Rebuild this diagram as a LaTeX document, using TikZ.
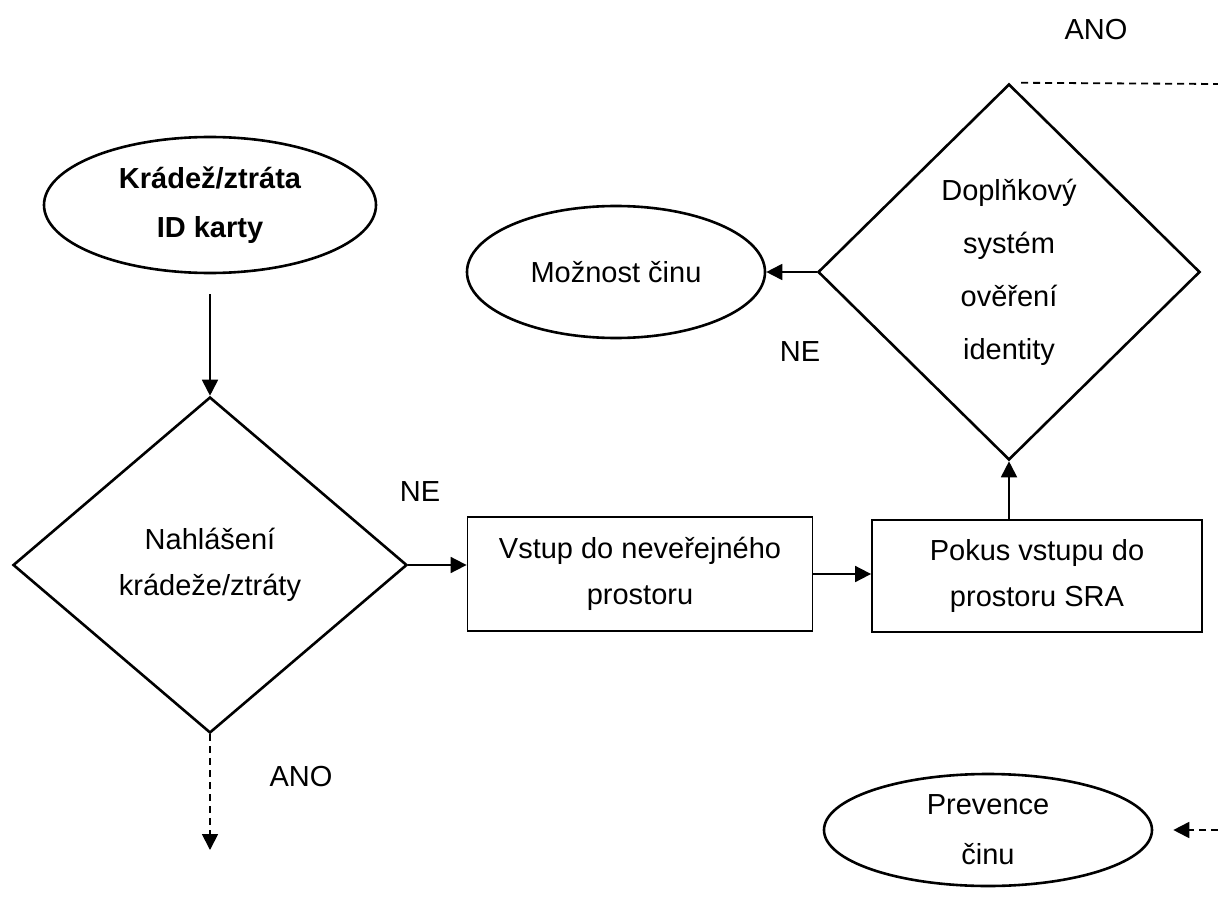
\documentclass[tikz,border=0pt]{standalone}
\usepackage{fontspec}
\setmainfont{Liberation Sans}
\usetikzlibrary{shapes.geometric,arrows.meta}
\begin{document}
\begin{tikzpicture}[x=1pt, y=-1pt,
    every node/.style={font=\fontsize{29}{46}\selectfont, align=center},
    oval/.style={ellipse, draw, line width=2.6pt, inner sep=0pt},
    choice/.style={diamond, draw, line width=2.6pt, inner sep=0pt},
    box/.style={rectangle, draw, line width=1.8pt, inner sep=0pt},
    arr/.style={-{Triangle[length=16pt,width=16pt]}, line width=1.8pt},
    dasharr/.style={arr, dash pattern=on 7pt off 5pt}]
    \useasboundingbox (0,0) rectangle (1218,915);
    % nodes
    \node [oval, minimum width=332pt, minimum height=136pt,
        font=\fontsize{29}{49}\selectfont\bfseries] (theft) at (210,205) {Krádež/ztráta\\ID karty};
    \node [choice, minimum width=394pt, minimum height=336pt] (report) at (210,565) {Nahlášení\\krádeže/ztráty};
    \node [box, minimum width=345pt, minimum height=114pt] (nonpublic) at (640,574) {Vstup do neveřejného\\prostoru};
    \node [box, minimum width=330pt, minimum height=112pt] (sra) at (1037,576) {Pokus vstupu do\\prostoru SRA};
    \node [choice, minimum width=382pt, minimum height=376pt,
        font=\fontsize{29}{53}\selectfont] (verify) at (1009,272) {Doplňkový\\systém\\ověření\\identity};
    \node [oval, minimum width=298pt, minimum height=132pt] (chance) at (616,272) {Možnost činu};
    \node [oval, minimum width=328pt, minimum height=112pt,
        font=\fontsize{29}{50}\selectfont] (prevent) at (988,830) {Prevence\\činu};
    % free ends
    \coordinate (reportend) at (210,850);
    \coordinate (verifyend) at (1218,84);
    \coordinate (preventstart) at (1218,830);
    % labels
    \node (yes1) at (1096,30) {ANO};
    \node (no1) at (800,352) {NE};
    \node (no2) at (420,492) {NE};
    \node (yes2) at (301,777) {ANO};
    % connectors
    \draw [arr, shorten <=20pt] (theft.south) -- (report.north);
    \draw [arr] (report.east) -- (report.east -| nonpublic.west);
    \draw [arr] (nonpublic.east) -- (nonpublic.east -| sra.west);
    \draw [arr] (verify.south |- sra.north) -- (verify.south);
    \draw [arr] (verify.west) -- (chance.east);
    \draw [dasharr] (report.south) -- (reportend);
    \draw [line width=1.8pt, dash pattern=on 7pt off 5pt, shorten <=12pt] (verify.north) -- (verifyend);
    \draw [dasharr, shorten >=20pt] (preventstart) -- (prevent.east);
\end{tikzpicture}
\end{document}
